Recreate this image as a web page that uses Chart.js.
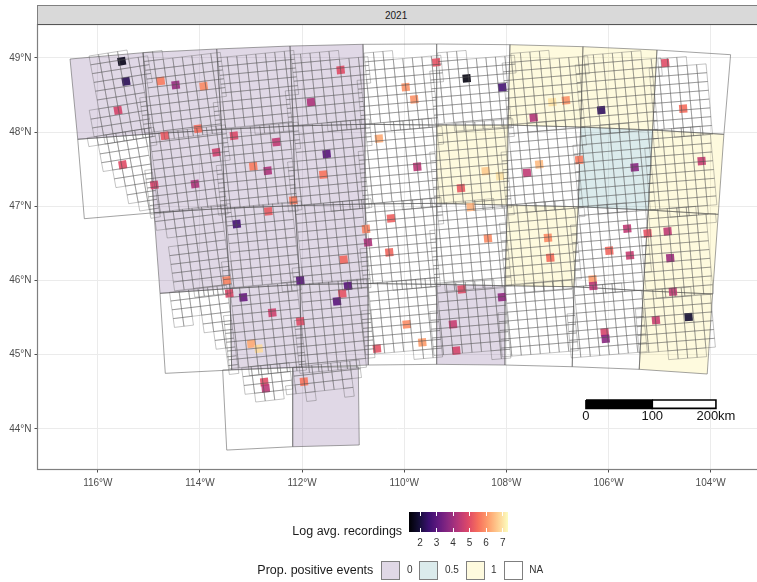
<!DOCTYPE html>
<html>
<head>
<meta charset="utf-8">
<title>2021</title>
<script src="https://cdn.jsdelivr.net/npm/chart.js@4"></script>
<style>
  body { margin: 0; background: #fff; font-family: "Liberation Sans", Arial, sans-serif; }
  #wrap { position: relative; width: 757px; height: 582px; overflow: hidden; }
  #wrap canvas { position: absolute; left: 0; top: 0; }
  .abs { position: absolute; white-space: nowrap; }
  #strip { left: 37px; top: 5px; width: 730px; height: 18px; background: #d9d9d9; border: 1px solid #808080; border-bottom-color: #555; color: #1a1a1a; font-size: 10px; line-height: 19px; }
  #strip span { position: absolute; left: 347px; }
  .title { font-size: 12.5px; color: #1a1a1a; line-height: 14px; }
  .lab { font-size: 10px; color: #333; line-height: 12px; }
  .key { width: 17px; height: 17px; border: 1px solid #7f7f7f; }
</style>
</head>
<body>
<div id="wrap">
  <canvas id="map" width="757" height="582"></canvas>
  <div id="strip" class="abs"><span>2021</span></div>
  <div id="legend"></div>
</div>
<script>
const lonTicks = [-116, -114, -112, -110, -108, -106, -104];
const latTicks = [44, 45, 46, 47, 48, 49];

// block corner lines, north to south, [lon, lat]
const edgeNorth = [[-116.544, 48.984], [-115.115, 49.069], [-113.672, 49.119], [-112.237, 49.159], [-110.808, 49.182], [-109.365, 49.186], [-107.930, 49.177], [-106.501, 49.150], [-105.052, 49.105], [-103.610, 49.042]];
const edge48 = [[-116.393, 47.902], [-114.992, 47.973], [-113.574, 48.034], [-112.173, 48.081], [-110.769, 48.104], [-109.365, 48.094], [-107.969, 48.094], [-106.546, 48.067], [-105.137, 48.027], [-103.741, 47.969]];
const edge47 = [[-116.264, 46.832], [-114.900, 46.912], [-113.510, 46.972], [-112.139, 47.007], [-110.769, 47.030], [-109.365, 47.039], [-107.983, 47.016], [-106.593, 46.993], [-105.223, 46.949], [-103.852, 46.891]];
const edge46 = [[-114.782, 45.826], [-113.412, 45.891], [-112.042, 45.945], [-110.710, 45.958], [-109.365, 45.947], [-108.028, 45.929], [-106.677, 45.915], [-105.321, 45.861], [-103.962, 45.817]];
const edge45 = [[-114.679, 44.748], [-113.379, 44.793], [-112.008, 44.829], [-110.704, 44.860], [-109.365, 44.869], [-108.028, 44.860], [-106.711, 44.837], [-105.399, 44.802], [-104.068, 44.739]];
const edge45South = [[-113.555, 44.793], [-112.184, 44.829], [-110.900, 44.837]];
const edge44 = [[-113.476, 43.714], [-112.184, 43.759], [-110.881, 43.782]];

// proportion of positive events per block, null = NA
const propRow1 = [0, 0, 0, 0, null, null, 1, 1, null];
const propRow2 = [null, 0, 0, 0, null, 1, null, 0.5, 1];
const propRow3 = [0, 0, 0, null, null, 1, null, 1];
const propRow4 = [null, 0, 0, null, 0, null, null, 1];
const propRow5 = [null, 0];

// grid tilt of each block column (rise per run)
const tiltRow1 = [-0.17, -0.13, -0.105, -0.1, -0.095, -0.09, -0.09, -0.09, -0.085];
const tiltRow2 = tiltRow1;
const tiltRow3 = tiltRow1.slice(1);
const tiltRow4 = tiltRow1.slice(1);
const tiltRow5 = [-0.12, -0.12];

// outer limit of the surveyed grid
const surveyLon = [-116.114, -116.035, -116.153, -116.074, -116.192, -116.094, -115.943, -115.859, -115.761, -115.428, -115.115, -114.900, -114.651, -114.455, -114.553, -114.639, -114.587, -114.651, -114.587, -114.430, -114.162, -114.195, -113.941, -113.901, -113.745, -113.706, -113.549, -113.471, -113.216, -113.157, -112.981, -112.942, -112.727, -112.766, -112.237, -111.885, -111.846, -111.709, -111.748, -111.356, -111.396, -111.219, -111.200, -110.965, -111.004, -110.906, -110.671, -103.976, -103.976, -104.093, -104.407, -104.446];
const surveyLat = [49.038, 48.701, 48.633, 48.296, 48.243, 47.825, 47.825, 47.582, 47.394, 47.178, 46.949, 46.679, 46.639, 46.504, 46.369, 46.167, 45.844, 45.803, 45.466, 45.372, 45.399, 45.493, 45.507, 45.358, 45.332, 45.102, 45.102, 44.793, 44.793, 44.429, 44.455, 44.294, 44.321, 44.415, 44.482, 44.496, 44.429, 44.440, 44.482, 44.482, 44.550, 44.550, 44.415, 44.442, 44.563, 44.833, 44.995, 44.995, 48.094, 48.943, 48.943, 49.038];

// sampled grid cells
const cellLon = [-115.532, -115.448, -115.605, -114.769, -114.475, -113.927, -111.245, -111.826, -114.038, -114.690, -113.334, -112.505, -113.680, -111.519, -112.956, -112.674, -111.585, -115.513, -114.894, -114.097, -112.173, -112.662, -113.281, -110.749, -110.710, -110.495, -111.186, -113.477, -112.036, -111.102, -111.213, -113.426, -113.152, -111.317, -112.584, -112.036, -112.995, -112.850, -112.740, -112.713, -111.963, -110.534, -109.373, -109.972, -109.804, -108.778, -108.081, -107.102, -106.834, -107.466, -106.143, -104.890, -104.538, -109.745, -108.406, -108.126, -108.890, -107.357, -107.597, -106.574, -105.489, -104.177, -108.700, -110.260, -108.361, -107.186, -105.634, -105.235, -104.843, -105.986, -110.293, -107.141, -105.581, -104.792, -106.311, -106.300, -104.739, -108.876, -108.087, -109.953, -109.647, -109.046, -108.982, -106.076, -106.057, -105.072, -104.432];
const cellLat = [48.953, 48.683, 48.292, 48.687, 48.633, 48.616, 48.836, 48.404, 48.044, 47.950, 47.950, 47.865, 47.726, 47.704, 47.538, 47.478, 47.425, 47.559, 47.286, 47.299, 47.080, 46.931, 46.760, 46.693, 46.513, 47.910, 46.279, 46.001, 46.001, 45.925, 45.821, 45.826, 45.772, 45.718, 45.565, 45.449, 45.147, 45.080, 44.631, 44.546, 44.635, 45.080, 48.939, 48.606, 48.441, 48.724, 48.602, 48.404, 48.427, 48.193, 48.296, 48.930, 48.314, 47.532, 47.474, 47.407, 47.245, 47.565, 47.451, 47.623, 47.524, 47.609, 46.989, 46.837, 46.567, 46.575, 46.697, 46.635, 46.662, 46.400, 46.379, 46.306, 46.338, 46.302, 46.015, 45.925, 45.848, 45.880, 45.776, 45.408, 45.166, 45.408, 45.053, 45.301, 45.214, 45.466, 45.507];
const cellLogRec = [1.6, 2.3, 4.8, 5.7, 3.9, 5.9, 5.0, 4.2, 5.5, 5.2, 4.9, 4.5, 4.7, 3.0, 5.7, 4.2, 5.6, 5.0, 4.8, 4.2, 5.7, 5.2, 2.7, 5.8, 4.2, 6.3, 5.4, 5.8, 3.0, 3.0, 5.1, 4.9, 3.2, 3.0, 4.7, 5.0, 6.3, 6.9, 5.0, 4.4, 5.6, 5.1, 5.1, 6.0, 6.0, 1.5, 2.7, 7.0, 6.0, 4.3, 2.4, 5.0, 5.5, 4.4, 6.7, 7.0, 5.2, 6.5, 4.5, 5.7, 3.7, 4.6, 6.4, 5.3, 5.9, 5.9, 4.5, 5.1, 4.5, 5.4, 5.4, 5.5, 4.6, 4.0, 6.1, 4.4, 4.5, 5.0, 3.8, 5.9, 6.1, 4.6, 4.8, 4.8, 3.7, 4.6, 1.9];

const colorTicks = [2, 3, 4, 5, 6, 7];
const colorMin = 1.35;
const colorMax = 7.34;
const magmaStops = ["#000004", "#140e36", "#3b0f70", "#641a80", "#8c2981", "#b73779", "#de4968", "#f7705c", "#fe9f6d", "#fece91", "#fcfdbf"];

const propLevels = [0, 0.5, 1, null];
const propLabels = ["0", "0.5", "1", "NA"];
const propFills = ["rgba(101, 60, 130, 0.2)", "rgba(75, 155, 160, 0.2)", "rgba(250, 230, 90, 0.2)", "rgba(255, 255, 255, 0)"];

// scale bar, km marks on the map
const barLon = [-106.442, -105.144, -103.897];
const barLatTop = 44.388;
const barLatBottom = 44.276;
const barLabels = ["0", "100", "200km"];

const LON_MIN = -117.181;
const LON_MAX = -103.093;
const LAT_MIN = 43.452;
const LAT_MAX = 49.449;
const CELL_LON = 0.186;
const CELL_LAT = 0.1186;
// a dash with no gap keeps Chart.js off its fast line path, which merges near-vertical edges
const SOLID = [1000, 0];

function hexToRgb(hex) {
  return [1, 3, 5].map((i) => parseInt(hex.slice(i, i + 2), 16));
}

function magma(value) {
  const t = Math.min(1, Math.max(0, (value - colorMin) / (colorMax - colorMin))) * (magmaStops.length - 1);
  const i = Math.min(magmaStops.length - 2, Math.floor(t));
  const a = hexToRgb(magmaStops[i]);
  const b = hexToRgb(magmaStops[i + 1]);
  const mix = a.map((c, k) => Math.round(c + (b[k] - c) * (t - i)));
  return `rgba(${mix[0]}, ${mix[1]}, ${mix[2]}, 0.9)`;
}

function inside(lon, lat, ringLon, ringLat) {
  let hit = false;
  for (let i = 0, j = ringLon.length - 1; i < ringLon.length; j = i++) {
    if ((ringLat[i] > lat) !== (ringLat[j] > lat)) {
      const cross = ringLon[i] + ((lat - ringLat[i]) / (ringLat[j] - ringLat[i])) * (ringLon[j] - ringLon[i]);
      if (lon < cross) hit = !hit;
    }
  }
  return hit;
}

function makeBlocks(north, south, props, tilts) {
  return props.map((prop, i) => ({
    ring: [north[i], north[i + 1], south[i + 1], south[i]],
    prop,
    tilt: tilts[i],
  }));
}

const blocks = [
  ...makeBlocks(edgeNorth, edge48, propRow1, tiltRow1),
  ...makeBlocks(edge48, edge47, propRow2, tiltRow2),
  ...makeBlocks(edge47.slice(1), edge46, propRow3, tiltRow3),
  ...makeBlocks(edge46, edge45, propRow4, tiltRow4),
  ...makeBlocks(edge45South, edge44, propRow5, tiltRow5),
];

// lattice of each block: a cell stays when its inner part reaches its block and its centre is in the survey limit
function gridPoints() {
  const pts = [];
  blocks.forEach((block) => {
    const [lon0, lat0] = block.ring[0];
    const t = block.tilt;
    const ringLon = block.ring.map((p) => p[0]);
    const ringLat = block.ring.map((p) => p[1]);
    const corner = (i, j) => ({
      x: lon0 + CELL_LON * (i - t * j),
      y: lat0 - CELL_LAT * (t * i + j),
    });
    for (let i = -4; i < 14; i++) {
      for (let j = -4; j < 14; j++) {
        const inner = [corner(i + 0.3, j + 0.3), corner(i + 0.7, j + 0.3), corner(i + 0.7, j + 0.7), corner(i + 0.3, j + 0.7)];
        const mid = corner(i + 0.5, j + 0.5);
        if (!inner.some((p) => inside(p.x, p.y, ringLon, ringLat))) continue;
        if (!inside(mid.x, mid.y, surveyLon, surveyLat)) continue;
        pts.push(corner(i, j), corner(i + 1, j), corner(i + 1, j + 1), corner(i, j + 1), corner(i, j), { x: NaN, y: NaN });
      }
    }
  });
  return pts;
}

const blockDatasets = blocks.map((block) => ({
  data: [...block.ring, block.ring[0]].map((p) => ({ x: p[0], y: p[1] })),
  borderColor: "rgba(90, 90, 90, 0.7)",
  borderWidth: 0.8,
  borderDash: SOLID,
  backgroundColor: propFills[propLevels.indexOf(block.prop)],
  fill: "shape",
  pointRadius: 0,
  order: 5,
}));

const gridDataset = {
  data: gridPoints(),
  borderColor: "rgba(80, 80, 80, 0.45)",
  borderWidth: 0.75,
  borderDash: SOLID,
  pointRadius: 0,
  fill: false,
  order: 3,
};

const cellDataset = {
  data: cellLon.map((lon, i) => ({ x: lon, y: cellLat[i] })),
  showLine: false,
  pointStyle: "rect",
  pointRadius: 5.7,
  pointRotation: cellLon.map((lon) => (Math.atan(tiltRow1[Math.max(0, Math.min(8, Math.floor((lon + 116.5) / 1.43)))]) * 180) / Math.PI),
  pointBackgroundColor: cellLogRec.map(magma),
  pointBorderWidth: 0,
  order: 4,
};

const barLine = (from, to, fillColor) => ({
  data: [
    { x: barLon[from], y: barLatTop },
    { x: barLon[to], y: barLatTop },
    { x: barLon[to], y: barLatBottom },
    { x: barLon[from], y: barLatBottom },
    { x: barLon[from], y: barLatTop },
  ],
  borderColor: "#000",
  borderWidth: 1.6,
  borderDash: SOLID,
  backgroundColor: fillColor,
  fill: "shape",
  pointRadius: 0,
  order: 1,
});

const mapExtras = {
  id: "mapExtras",
  afterDraw(chart) {
    const { ctx, chartArea, scales } = chart;
    ctx.save();
    ctx.strokeStyle = "#7f7f7f";
    ctx.lineWidth = 1.2;
    ctx.strokeRect(chartArea.left, chartArea.top, chartArea.width + 4, chartArea.height);
    ctx.fillStyle = "#111";
    ctx.font = '13px "Liberation Sans", Arial, sans-serif';
    ctx.textAlign = "center";
    ctx.textBaseline = "middle";
    barLabels.forEach((label, i) => {
      ctx.fillText(label, scales.x.getPixelForValue(barLon[i]), scales.y.getPixelForValue(barLatBottom) + 8);
    });
    ctx.restore();
  },
};

const tickFont = { family: '"Liberation Sans", Arial, sans-serif', size: 10 };

new Chart(document.getElementById("map"), {
  type: "line",
  data: { datasets: [...blockDatasets, gridDataset, cellDataset, barLine(0, 1, "#000"), barLine(1, 2, "#fff")] },
  options: {
    responsive: false,
    animation: false,
    layout: { autoPadding: false, padding: { top: 24.5, right: 0, bottom: 82.5, left: 0 } },
    plugins: { legend: { display: false }, tooltip: { enabled: false } },
    scales: {
      x: {
        type: "linear",
        min: LON_MIN,
        max: LON_MAX,
        afterBuildTicks: (axis) => { axis.ticks = lonTicks.map((value) => ({ value })); },
        afterFit: (axis) => { axis.height = 30; axis.paddingLeft = 0; axis.paddingRight = 0; },
        border: { display: false },
        grid: { color: "#ebebeb", lineWidth: 1, tickColor: "#4d4d4d", tickLength: 3 },
        ticks: { font: tickFont, color: "#4d4d4d", padding: 5, maxRotation: 0, autoSkip: false, callback: (v) => `${Math.abs(v)}°W` },
      },
      y: {
        type: "linear",
        min: LAT_MIN,
        max: LAT_MAX,
        afterBuildTicks: (axis) => { axis.ticks = latTicks.map((value) => ({ value })); },
        afterFit: (axis) => { axis.width = 37.5; axis.paddingTop = 0; axis.paddingBottom = 0; },
        border: { display: false },
        grid: { color: "#ebebeb", lineWidth: 1, tickColor: "#4d4d4d", tickLength: 3 },
        ticks: { font: tickFont, color: "#4d4d4d", padding: 3, autoSkip: false, callback: (v) => `${v}°N` },
      },
    },
  },
  plugins: [mapExtras],
});

// legends below the panel
function addBox(className, left, top, text, styles) {
  const el = document.createElement("div");
  el.className = `abs ${className}`;
  el.style.left = `${left}px`;
  el.style.top = `${top}px`;
  if (text) el.textContent = text;
  Object.assign(el.style, styles || {});
  document.getElementById("legend").appendChild(el);
  return el;
}

const BAR_LEFT = 409.3;
const BAR_WIDTH = 99;
addBox("title", 292.3, 524, "Log avg. recordings");
addBox("", BAR_LEFT, 511.7, "", {
  width: `${BAR_WIDTH}px`,
  height: "20px",
  background: `linear-gradient(to right, ${magmaStops.join(", ")})`,
});
colorTicks.forEach((tick) => {
  const x = BAR_LEFT + ((tick - colorMin) / (colorMax - colorMin)) * BAR_WIDTH;
  addBox("", x - 0.25, 511.7, "", { width: "0.5px", height: "4px", background: "#fff" });
  addBox("", x - 0.25, 527.7, "", { width: "0.5px", height: "4px", background: "#fff" });
  addBox("lab", x - 10, 536.5, String(tick), { width: "20px", textAlign: "center" });
});

addBox("title", 257.3, 563, "Prop. positive events");
const keyLeft = [381.3, 419.3, 466, 504];
const keyLabelLeft = [407, 445, 491, 529.3];
propLabels.forEach((label, i) => {
  addBox("key", keyLeft[i], 560.5, "", { background: propFills[i] });
  addBox("lab", keyLabelLeft[i], 564, label);
});
</script>
</body>
</html>
